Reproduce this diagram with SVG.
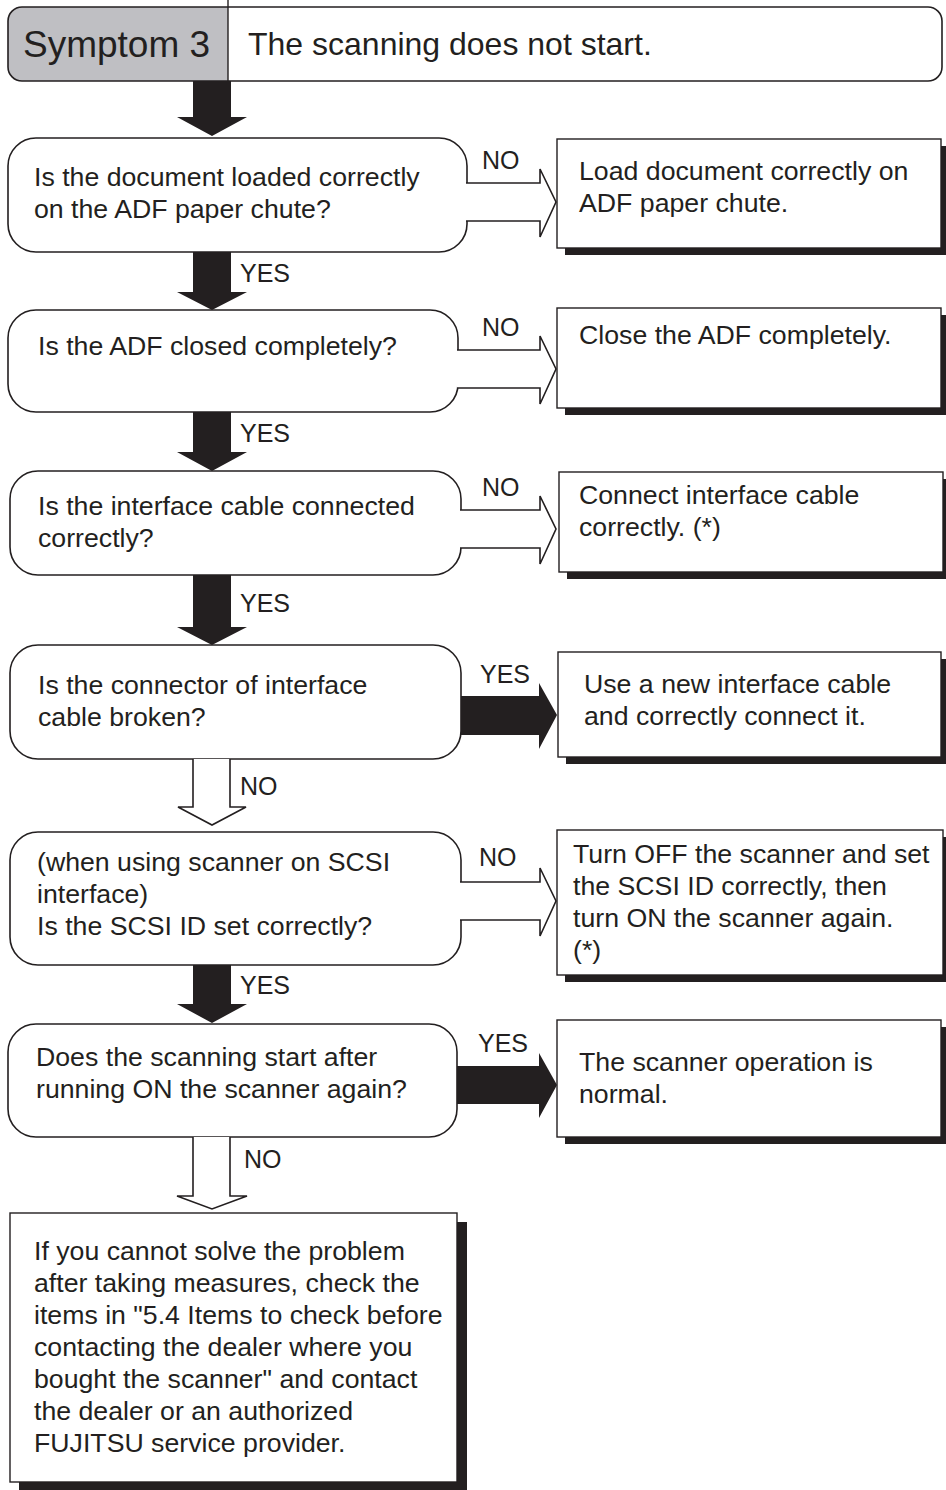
<svg xmlns="http://www.w3.org/2000/svg" width="946" height="1490" viewBox="0 0 946 1490">
<style>
  .t { font-family: "Liberation Sans", Arial, sans-serif; font-size: 26.7px; fill: #231f20; }
  .lbl { font-family: "Liberation Sans", Arial, sans-serif; font-size: 25px; fill: #231f20; }
  .dec { fill: #ffffff; stroke: #231f20; stroke-width: 1.6; }
  .box { fill: #ffffff; stroke: #231f20; stroke-width: 1.4; }
  .shadow { fill: #231f20; }
  .solid { fill: #231f20; stroke: none; }
  .hollow { fill: #ffffff; stroke: #231f20; stroke-width: 1.6; stroke-linejoin: miter; }
</style>
<rect width="946" height="1490" fill="#ffffff"/>

<g id="header">
  <path d="M228,7 H22 A14,14 0 0 0 8,21 V67 A14,14 0 0 0 22,81 H228 Z" fill="#bfbfc3"/>
  <rect x="8" y="7" width="934" height="74" rx="14" ry="14" fill="none" stroke="#231f20" stroke-width="1.6"/>
  <line x1="228" y1="0" x2="228" y2="81" stroke="#231f20" stroke-width="1.4"/>
  <text class="t" x="23" y="57" style="font-size:37px">Symptom 3</text>
  <text class="t" x="248" y="55" style="font-size:32px">The scanning does not start.</text>
</g>

<g id="d1">
  <rect class="dec" x="8" y="138" width="459" height="114" rx="28" ry="28"/>
  <text class="t" x="34" y="186">Is the document loaded correctly</text>
  <text class="t" x="34" y="218">on the ADF paper chute?</text>
</g>
<g id="a1">
  <rect class="shadow" x="565" y="146" width="381" height="109"/>
  <rect class="box" x="557" y="139" width="384" height="109"/>
  <text class="t" x="579" y="180">Load document correctly on</text>
  <text class="t" x="579" y="212">ADF paper chute.</text>
</g>

<g id="d2">
  <rect class="dec" x="8" y="310" width="450" height="102" rx="28" ry="28"/>
  <text class="t" x="38" y="355">Is the ADF closed completely?</text>
</g>
<g id="a2">
  <rect class="shadow" x="565" y="315" width="381" height="100"/>
  <rect class="box" x="557" y="308" width="384" height="100"/>
  <text class="t" x="579" y="344">Close the ADF completely.</text>
</g>

<g id="d3">
  <rect class="dec" x="10" y="471" width="451" height="104" rx="28" ry="28"/>
  <text class="t" x="38" y="515">Is the interface cable connected</text>
  <text class="t" x="38" y="547">correctly?</text>
</g>
<g id="a3">
  <rect class="shadow" x="567" y="479" width="379" height="100"/>
  <rect class="box" x="559" y="472" width="384" height="100"/>
  <text class="t" x="579" y="504">Connect interface cable</text>
  <text class="t" x="579" y="536">correctly. (*)</text>
</g>

<g id="d4">
  <rect class="dec" x="10" y="645" width="451" height="114" rx="28" ry="28"/>
  <text class="t" x="38" y="694">Is the connector of interface</text>
  <text class="t" x="38" y="726">cable broken?</text>
</g>
<g id="a4">
  <rect class="shadow" x="566" y="659" width="380" height="105"/>
  <rect class="box" x="558" y="652" width="383" height="105"/>
  <text class="t" x="584" y="693">Use a new interface cable</text>
  <text class="t" x="584" y="725">and correctly connect it.</text>
</g>

<g id="d5">
  <rect class="dec" x="10" y="832" width="451" height="133" rx="28" ry="28"/>
  <text class="t" x="37" y="871">(when using scanner on SCSI</text>
  <text class="t" x="37" y="903">interface)</text>
  <text class="t" x="37" y="935">Is the SCSI ID set correctly?</text>
</g>
<g id="a5">
  <rect class="shadow" x="565" y="837" width="381" height="145"/>
  <rect class="box" x="557" y="830" width="386" height="145"/>
  <text class="t" x="573" y="863">Turn OFF the scanner and set</text>
  <text class="t" x="573" y="895">the SCSI ID correctly, then</text>
  <text class="t" x="573" y="927">turn ON the scanner again.</text>
  <text class="t" x="573" y="959">(*)</text>
</g>

<g id="d6">
  <rect class="dec" x="8" y="1024" width="449" height="113" rx="28" ry="28"/>
  <text class="t" x="36" y="1066">Does the scanning start after</text>
  <text class="t" x="36" y="1098">running ON the scanner again?</text>
</g>
<g id="a6">
  <rect class="shadow" x="565" y="1027" width="381" height="117"/>
  <rect class="box" x="557" y="1020" width="384" height="117"/>
  <text class="t" x="579" y="1071">The scanner operation is</text>
  <text class="t" x="579" y="1103">normal.</text>
</g>

<g id="final">
  <rect class="shadow" x="19" y="1222" width="448" height="268"/>
  <rect class="box" x="10" y="1213" width="447" height="269"/>
  <text class="t" x="34" y="1260">If you cannot solve the problem</text>
  <text class="t" x="34" y="1292">after taking measures, check the</text>
  <text class="t" x="34" y="1324">items in "5.4 Items to check before</text>
  <text class="t" x="34" y="1356">contacting the dealer where you</text>
  <text class="t" x="34" y="1388">bought the scanner" and contact</text>
  <text class="t" x="34" y="1420">the dealer or an authorized</text>
  <text class="t" x="34" y="1452">FUJITSU service provider.</text>
</g>

<g id="connectors">
  <!-- black down arrows -->
  <path class="solid" d="M193,81 H231 V117 H247 L212,136 L177,117 H193 Z"/>
  <path class="solid" d="M193,252 H231 V292 H247 L212,310 L177,292 H193 Z"/>
  <path class="solid" d="M193,412 H231 V452 H247 L212,471 L177,452 H193 Z"/>
  <path class="solid" d="M193,575 H231 V627 H247 L212,645 L177,627 H193 Z"/>
  <path class="solid" d="M193,965 H231 V1004 H247 L212,1023 L177,1004 H193 Z"/>
  <!-- hollow down arrows -->
  <path class="hollow" d="M193,759 V807 H178 L212,825 L246,807 H230 V759"/>
  <path class="hollow" d="M193,1137 V1196 H177 L212,1209 L247,1196 H230 V1137"/>
  <!-- hollow right arrows (NO) -->
  <path class="hollow" d="M466,183 H540 V169 L556,202 L540,237 V221 H466"/>
  <path class="hollow" d="M457,350 H540 V336 L556,369 L540,404 V388 H457"/>
  <path class="hollow" d="M460,510 H540 V496 L556,529 L540,564 V548 H460"/>
  <path class="hollow" d="M460,882 H540 V868 L556,901 L540,936 V920 H460"/>
  <!-- black right arrows (YES) -->
  <path class="solid" d="M461,696 H539 V683 L557,715 L539,749 V735 H461 Z"/>
  <path class="solid" d="M457,1066 H539 V1053 L557,1085 L539,1118 V1104 H457 Z"/>
  <!-- labels -->
  <text class="lbl" x="240" y="282">YES</text>
  <text class="lbl" x="240" y="442">YES</text>
  <text class="lbl" x="240" y="612">YES</text>
  <text class="lbl" x="240" y="795">NO</text>
  <text class="lbl" x="240" y="994">YES</text>
  <text class="lbl" x="244" y="1168">NO</text>
  <text class="lbl" x="482" y="169">NO</text>
  <text class="lbl" x="482" y="336">NO</text>
  <text class="lbl" x="482" y="496">NO</text>
  <text class="lbl" x="480" y="683">YES</text>
  <text class="lbl" x="479" y="866">NO</text>
  <text class="lbl" x="478" y="1052">YES</text>
</g>
</svg>
